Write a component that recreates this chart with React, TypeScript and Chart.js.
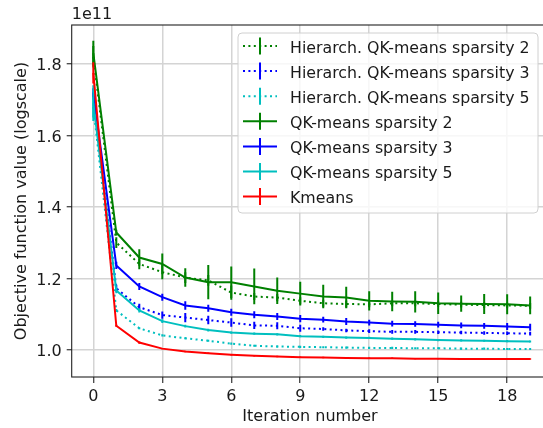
import React, { useEffect, useRef } from "react";
import { Chart, registerables } from "chart.js";

Chart.register(...registerables);

// ---------- data (objective value in units of 1e11) ----------
const iterations = [0, 1, 2, 3, 4, 5, 6, 7, 8, 9, 10, 11, 12, 13, 14, 15, 16, 17, 18, 19];
const xTicks = [0, 3, 6, 9, 12, 15, 18];
const yTicks = [1.0, 1.2, 1.4, 1.6, 1.8];
const offsetLabel = "1e11";

const hierS2 = [1.82, 1.30, 1.24, 1.217, 1.202, 1.194, 1.16, 1.149, 1.146, 1.137, 1.13, 1.128, 1.127, 1.13, 1.13, 1.128, 1.126, 1.125, 1.124, 1.123];
const hierS2Err = [0.03, 0.015, 0.015, 0.02, 0.015, 0.015, 0.02, 0.01, 0.01, 0.01, 0.01, 0.01, 0.008, 0.008, 0.008, 0.008, 0.008, 0.008, 0.008, 0.008];
const hierS3 = [1.71, 1.172, 1.119, 1.097, 1.09, 1.083, 1.076, 1.068, 1.067, 1.06, 1.058, 1.054, 1.052, 1.05, 1.05, 1.049, 1.048, 1.047, 1.046, 1.045];
const hierS3Err = [0.01, 0.01, 0.01, 0.01, 0.013, 0.012, 0.012, 0.01, 0.01, 0.01, 0.005, 0.005, 0.005, 0.005, 0.005, 0.005, 0.005, 0.005, 0.005, 0.005];
const hierS5 = [1.68, 1.11, 1.06, 1.04, 1.032, 1.025, 1.017, 1.011, 1.009, 1.008, 1.007, 1.006, 1.005, 1.005, 1.004, 1.004, 1.003, 1.003, 1.002, 1.002];
const hierS5Err = [0.03, 0.004, 0.003, 0.003, 0.003, 0.003, 0.003, 0.003, 0.003, 0.003, 0.003, 0.003, 0.003, 0.003, 0.003, 0.003, 0.003, 0.003, 0.003, 0.003];
const qkS2 = [1.83, 1.328, 1.258, 1.24, 1.202, 1.189, 1.189, 1.177, 1.165, 1.157, 1.149, 1.146, 1.137, 1.135, 1.134, 1.13, 1.129, 1.128, 1.127, 1.124];
const qkS2Err = [0.035, 0.008, 0.023, 0.029, 0.026, 0.048, 0.044, 0.05, 0.037, 0.033, 0.033, 0.03, 0.027, 0.027, 0.03, 0.03, 0.023, 0.028, 0.028, 0.025];
const qkS3 = [1.72, 1.236, 1.177, 1.147, 1.124, 1.116, 1.105, 1.098, 1.093, 1.087, 1.084, 1.079, 1.076, 1.073, 1.072, 1.07, 1.068, 1.067, 1.065, 1.063];
const qkS3Err = [0.012, 0.01, 0.01, 0.01, 0.012, 0.01, 0.01, 0.01, 0.01, 0.01, 0.008, 0.01, 0.008, 0.008, 0.008, 0.008, 0.008, 0.008, 0.01, 0.01];
const qkS5 = [1.69, 1.166, 1.11, 1.08, 1.066, 1.055, 1.048, 1.045, 1.043, 1.038, 1.036, 1.034, 1.033, 1.031, 1.029, 1.027, 1.026, 1.025, 1.024, 1.023];
const qkS5Err = [0.05, 0.008, 0.006, 0.005, 0.004, 0.004, 0.003, 0.003, 0.003, 0.003, 0.003, 0.003, 0.003, 0.003, 0.003, 0.003, 0.003, 0.003, 0.003, 0.003];
const kmeans = [1.775, 1.067, 1.02, 1.003, 0.995, 0.99, 0.986, 0.983, 0.981, 0.979, 0.978, 0.977, 0.976, 0.976, 0.975, 0.975, 0.974, 0.974, 0.974, 0.974];
const kmeansErr = [0.03, 0.003, 0.003, 0.002, 0.002, 0.002, 0.002, 0.002, 0.002, 0.002, 0.002, 0.002, 0.002, 0.002, 0.002, 0.002, 0.002, 0.002, 0.002, 0.002];

const seriesNames = [
  "Hierarch. QK-means sparsity 2",
  "Hierarch. QK-means sparsity 3",
  "Hierarch. QK-means sparsity 5",
  "QK-means sparsity 2",
  "QK-means sparsity 3",
  "QK-means sparsity 5",
  "Kmeans",
];
const seriesValues = [hierS2, hierS3, hierS5, qkS2, qkS3, qkS5, kmeans];
const seriesErrors = [hierS2Err, hierS3Err, hierS5Err, qkS2Err, qkS3Err, qkS5Err, kmeansErr];
const seriesColors = ["#008000", "#0000ff", "#00bfbf", "#008000", "#0000ff", "#00bfbf", "#ff0000"];
const seriesDotted = [true, true, true, false, false, false, false];

const xLabel = "Iteration number";
const yLabel = "Objective function value (logscale)";

// ---------- style ----------
const FONT = "DejaVu Sans";
const FS = 16;
const LW = 2;
const DOT = [2, 3.4];
const TEXT = "#1a1a1a";

const errorBarPlugin = {
  id: "errorBars",
  afterDatasetDraw(chart: any, args: any) {
    const ds = chart.data.datasets[args.index];
    const errs: number[] = ds.errors;
    if (!errs) return;
    const xs = chart.scales.x;
    const ys = chart.scales.y;
    const ctx = chart.ctx;
    const area = chart.chartArea;
    ctx.save();
    ctx.beginPath();
    ctx.rect(area.left, area.top, area.right - area.left, area.bottom - area.top);
    ctx.clip();
    ctx.strokeStyle = ds.borderColor;
    ctx.lineWidth = LW;
    ctx.setLineDash([]);
    ds.data.forEach((p: any, i: number) => {
      const px = xs.getPixelForValue(p.x);
      const y1 = ys.getPixelForValue(p.y - errs[i]);
      const y2 = ys.getPixelForValue(p.y + errs[i]);
      ctx.beginPath();
      ctx.moveTo(px, y1);
      ctx.lineTo(px, y2);
      ctx.stroke();
    });
    ctx.restore();
  },
};

const framePlugin = {
  id: "frameAndLegend",
  afterDraw(chart: any) {
    const ctx = chart.ctx;
    const a = chart.chartArea;
    const xs = chart.scales.x;
    const ys = chart.scales.y;
    ctx.save();
    // frame (spines)
    ctx.strokeStyle = "#222";
    ctx.lineWidth = 1.1;
    ctx.setLineDash([]);
    ctx.strokeRect(a.left, a.top, a.right - a.left, a.bottom - a.top);

    ctx.fillStyle = TEXT;
    ctx.font = `${FS}px '${FONT}'`;
    ctx.textBaseline = "alphabetic";
    // tick labels
    ctx.textAlign = "center";
    xTicks.forEach((v) => ctx.fillText(String(v), xs.getPixelForValue(v), a.bottom + 24));
    ctx.textAlign = "right";
    yTicks.forEach((v) => ctx.fillText(v.toFixed(1), a.left - 10, ys.getPixelForValue(v) + 6.5));
    // axis titles
    ctx.textAlign = "center";
    ctx.fillText(xLabel, 310, 421);
    ctx.save();
    ctx.translate(26, (a.top + a.bottom) / 2);
    ctx.rotate(-Math.PI / 2);
    ctx.fillText(yLabel, 0, 0);
    ctx.restore();
    // offset text
    ctx.textAlign = "left";
    ctx.fillText(offsetLabel, a.left, a.top - 6);

    // legend
    const lx = 238, ly = 33, lw = 300, lh = 180, r = 4;
    ctx.beginPath();
    ctx.moveTo(lx + r, ly);
    ctx.lineTo(lx + lw - r, ly);
    ctx.quadraticCurveTo(lx + lw, ly, lx + lw, ly + r);
    ctx.lineTo(lx + lw, ly + lh - r);
    ctx.quadraticCurveTo(lx + lw, ly + lh, lx + lw - r, ly + lh);
    ctx.lineTo(lx + r, ly + lh);
    ctx.quadraticCurveTo(lx, ly + lh, lx, ly + lh - r);
    ctx.lineTo(lx, ly + r);
    ctx.quadraticCurveTo(lx, ly, lx + r, ly);
    ctx.closePath();
    ctx.fillStyle = "rgba(255,255,255,0.8)";
    ctx.fill();
    ctx.strokeStyle = "#d0d0d0";
    ctx.lineWidth = 1;
    ctx.stroke();

    seriesNames.forEach((name, i) => {
      const cy = 46 + i * 25.1;
      ctx.strokeStyle = seriesColors[i];
      ctx.lineWidth = LW;
      ctx.setLineDash(seriesDotted[i] ? DOT : []);
      ctx.beginPath();
      ctx.moveTo(243, cy);
      ctx.lineTo(277, cy);
      ctx.stroke();
      ctx.setLineDash([]);
      ctx.beginPath();
      ctx.moveTo(260, cy - 8.5);
      ctx.lineTo(260, cy + 8.5);
      ctx.stroke();
      ctx.fillStyle = TEXT;
      ctx.font = `15.8px '${FONT}'`;
      ctx.textBaseline = "alphabetic";
      ctx.textAlign = "left";
      ctx.fillText(name, 290, cy + 6.5);
    });
    ctx.restore();
  },
};

export default function App() {
  const ref = useRef<HTMLCanvasElement | null>(null);

  useEffect(() => {
    document.body.style.margin = "0";
    document.body.style.overflow = "hidden";
    const canvas = ref.current;
    if (!canvas) return;

    const datasets = seriesNames.map((name, i) => ({
      label: name,
      data: iterations.map((x, j) => ({ x, y: seriesValues[i][j] })),
      errors: seriesErrors[i],
      borderColor: seriesColors[i],
      backgroundColor: seriesColors[i],
      borderWidth: LW,
      borderDash: seriesDotted[i] ? DOT : [],
      borderCapStyle: "butt",
      pointRadius: 0,
      fill: false,
      tension: 0,
      order: seriesNames.length - i,
    }));

    const chart = new Chart(canvas, {
      type: "line",
      data: { datasets: datasets as any },
      plugins: [errorBarPlugin, framePlugin],
      options: {
        animation: false,
        responsive: false,
        devicePixelRatio: 1,
        layout: { padding: { left: 0, right: 18, top: 25, bottom: 0 } },
        plugins: { legend: { display: false }, tooltip: { enabled: false } },
        scales: {
          x: {
            type: "linear",
            min: -0.94,
            max: 19.95,
            afterFit: (s: any) => { s.height = 51; },
            afterBuildTicks: (s: any) => { s.ticks = xTicks.map((v) => ({ value: v })); },
            border: { display: false },
            grid: { color: "#d4d4d4", lineWidth: 1.5, tickColor: "#222", tickLength: 6, tickWidth: 1.1 },
            ticks: { display: false },
          },
          y: {
            type: "linear",
            min: 0.9236,
            max: 1.909,
            afterFit: (s: any) => { s.width = 71.7; },
            afterBuildTicks: (s: any) => { s.ticks = yTicks.map((v) => ({ value: v })); },
            border: { display: false },
            grid: { color: "#d4d4d4", lineWidth: 1.5, tickColor: "#222", tickLength: 5, tickWidth: 1.1 },
            ticks: { display: false },
          },
        },
      },
    });
    return () => chart.destroy();
  }, []);

  return (
    <div style={{ width: 543, height: 428, overflow: "hidden", position: "relative", background: "#fff" }}>
      <canvas ref={ref} width={570} height={428} style={{ width: 570, height: 428, display: "block" }} />
    </div>
  );
}
